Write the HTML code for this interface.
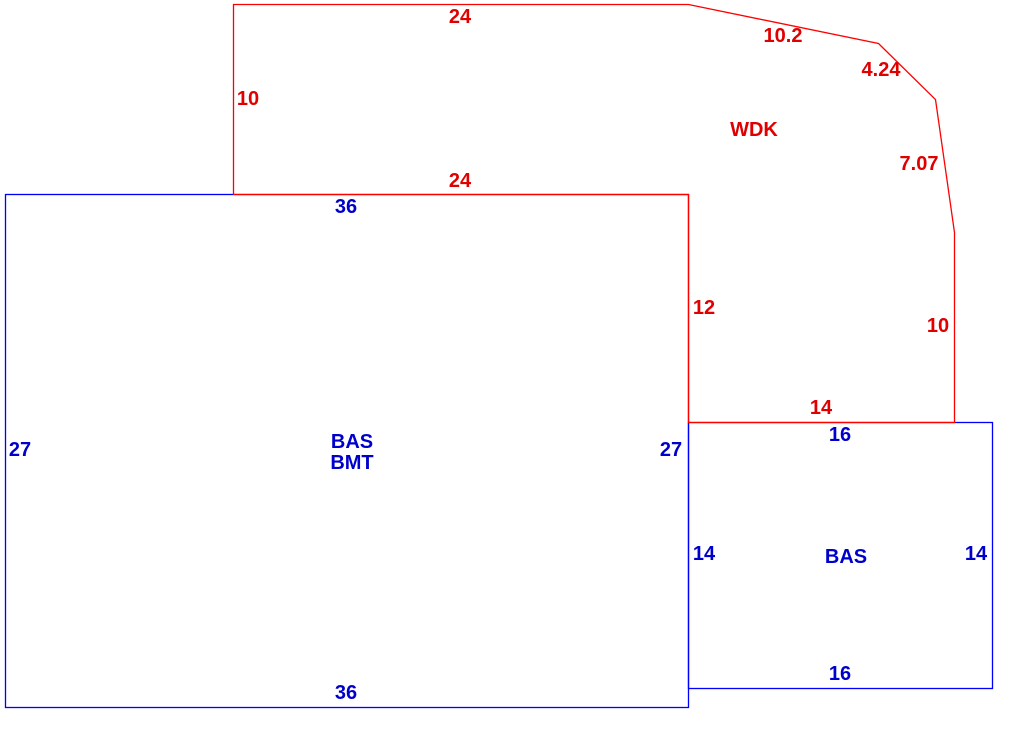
<!DOCTYPE html>
<html><head><meta charset="utf-8"><style>
html,body{margin:0;padding:0;background:#fff;}
svg{display:block;}
text{font-family:"Liberation Sans",Arial,sans-serif;font-weight:bold;font-size:20px;}
.r{fill:#e00000;}
.b{fill:#0000cc;}
</style></head><body>
<svg width="1025" height="748" viewBox="0 0 1025 748" xmlns="http://www.w3.org/2000/svg">
<rect x="5.5" y="194.5" width="683" height="513" fill="none" stroke="#0000ff" stroke-width="1.3"/>
<rect x="688.5" y="422.5" width="304" height="266" fill="none" stroke="#0000ff" stroke-width="1.3"/>
<polyline points="233.5,194.5 233.5,4.5 688.5,4.5 878.5,43.5 935.5,99.5 954.5,232.5 954.5,422.5 688.5,422.5 688.5,194.5 233.5,194.5" fill="none" stroke="#ff0000" stroke-width="1.3"/>
<g class="r">
<text x="460" y="23" text-anchor="middle">24</text>
<text x="783" y="42" text-anchor="middle">10.2</text>
<text x="881" y="76" text-anchor="middle">4.24</text>
<text x="754" y="136" text-anchor="middle">WDK</text>
<text x="919" y="170" text-anchor="middle">7.07</text>
<text x="248" y="105" text-anchor="middle">10</text>
<text x="460" y="187" text-anchor="middle">24</text>
<text x="704" y="314" text-anchor="middle">12</text>
<text x="938" y="332" text-anchor="middle">10</text>
<text x="821" y="414" text-anchor="middle">14</text>
</g>
<g class="b">
<text x="346" y="213" text-anchor="middle">36</text>
<text x="20" y="456" text-anchor="middle">27</text>
<text x="352" y="448" text-anchor="middle">BAS</text>
<text x="352" y="469" text-anchor="middle">BMT</text>
<text x="671" y="456" text-anchor="middle">27</text>
<text x="840" y="441" text-anchor="middle">16</text>
<text x="704" y="560" text-anchor="middle">14</text>
<text x="846" y="563" text-anchor="middle">BAS</text>
<text x="976" y="560" text-anchor="middle">14</text>
<text x="840" y="680" text-anchor="middle">16</text>
<text x="346" y="699" text-anchor="middle">36</text>
</g>
</svg>
</body></html>
